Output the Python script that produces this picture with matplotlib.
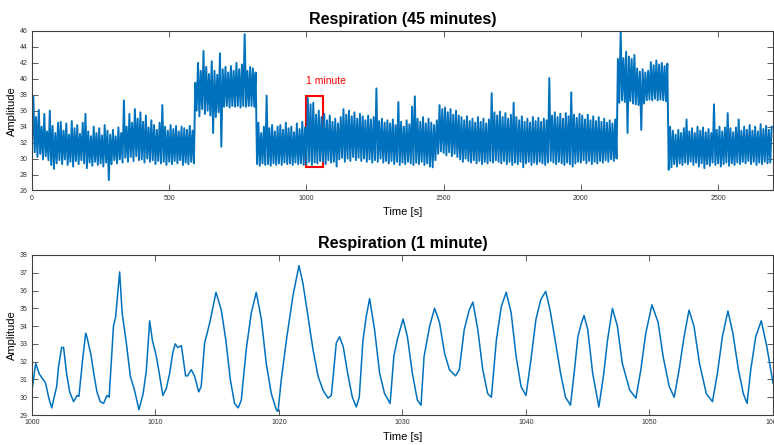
import numpy as np
import matplotlib
matplotlib.use('Agg')
import matplotlib.pyplot as plt
from matplotlib.patches import Rectangle

plt.rcParams['font.family'] = ['Liberation Sans', 'DejaVu Sans']

bin_start = np.arange(0, 2700, 10)
upper = [
    37.8, 35.2, 36.1, 34.0, 35.6, 33.4, 36.0, 34.1, 33.2, 34.5,
    34.6, 33.5, 34.4, 33.0, 34.7, 33.8, 34.2, 33.1, 34.5, 35.6,
    33.4, 32.8, 34.0, 33.2, 33.8, 32.9, 34.2, 33.5, 33.0, 33.6,
    32.8, 33.9, 33.2, 37.3, 34.0, 35.6, 34.5, 36.2, 35.0, 35.8,
    34.6, 35.4, 33.9, 34.8, 34.2, 33.6, 34.5, 36.7, 34.0, 33.5,
    34.2, 33.7, 34.1, 33.4, 34.0, 33.8, 33.6, 34.1, 33.5, 39.5,
    42.0, 41.0, 43.5, 41.5, 40.6, 42.2, 41.0, 40.5, 43.2, 41.2,
    41.5, 40.8, 41.6, 41.0, 42.0, 41.2, 41.8, 45.6, 41.0, 41.5,
    41.3, 40.8, 34.5, 33.2, 34.0, 37.9, 33.8, 34.2, 33.4, 34.0,
    34.2, 33.6, 34.5, 33.8, 34.0, 33.3, 34.4, 33.7, 34.6, 33.9,
    37.6, 36.8, 37.0, 35.5, 36.0, 35.2, 35.6, 34.8, 35.4, 34.6,
    35.0, 34.4, 35.2, 36.2, 35.5, 36.0, 35.3, 35.8, 35.0, 35.6,
    35.3, 34.8, 35.4, 34.9, 35.2, 38.8, 34.7, 35.0, 34.5, 34.8,
    34.4, 34.9, 34.2, 37.1, 34.6, 34.0, 34.8, 34.3, 36.5, 37.8,
    35.0, 34.6, 35.2, 34.4, 35.0, 34.5, 34.2, 34.8, 36.7, 36.2,
    36.4, 35.8, 36.2, 35.5, 36.0, 35.4, 35.2, 34.8, 35.3, 34.7,
    35.0, 34.5, 35.2, 34.6, 35.0, 34.4, 34.9, 38.2, 35.8, 35.4,
    35.9, 35.2, 35.7, 35.0, 35.5, 37.0, 35.2, 34.8, 35.3, 34.6,
    35.0, 34.5, 35.2, 34.7, 35.1, 34.6, 35.0, 34.8, 40.1, 35.4,
    35.8, 35.2, 35.6, 35.0, 35.7, 35.3, 38.3, 35.5, 35.1, 35.6,
    35.4, 34.9, 35.5, 34.8, 35.3, 34.7, 35.2, 34.6, 35.0, 34.5,
    34.8, 34.4, 34.9, 42.5, 46.0, 42.6, 43.4, 42.8, 42.5, 43.0,
    41.3, 40.9, 41.2, 40.8, 41.0, 42.1, 41.7, 42.3, 41.8, 42.0,
    41.6, 41.9, 34.0, 33.5, 33.0, 33.6, 33.2, 33.8, 34.9, 33.4,
    33.8, 33.2, 34.0, 33.5, 33.9, 33.3, 33.7, 33.2, 36.8, 33.6,
    34.0, 33.4, 33.9, 35.7, 33.8, 33.3, 33.9, 34.9, 33.5, 34.0,
    33.6, 34.2, 33.5, 34.0, 33.4, 34.3, 33.7, 34.1, 33.6, 34.0,
]
lower = [
    31.5, 30.8, 30.2, 30.6, 29.9, 30.3, 29.8, 29.2, 28.7, 29.4,
    29.8, 29.3, 29.9, 29.2, 29.6, 29.0, 29.7, 29.3, 29.8, 29.4,
    28.8, 29.5, 29.1, 29.6, 29.2, 29.4, 29.0, 29.5, 27.3, 29.3,
    29.8, 29.4, 29.9, 29.5, 30.1, 29.6, 30.2, 29.7, 30.3, 29.8,
    29.9, 29.5, 30.0, 29.6, 29.8, 29.3, 29.7, 29.4, 29.6, 29.2,
    29.6, 29.3, 29.7, 29.4, 29.8, 29.2, 29.5, 29.3, 29.6, 29.4,
    36.0, 35.3, 36.2, 35.6, 36.0, 35.4, 33.2, 35.2, 35.8, 31.5,
    36.5, 36.6, 36.4, 36.6, 36.5, 36.6, 36.4, 36.6, 36.5, 36.6,
    36.6, 36.5, 29.3, 29.1, 29.4, 29.2, 29.3, 29.1, 29.4, 29.2,
    29.4, 29.2, 29.5, 29.3, 29.4, 29.2, 29.5, 29.3, 29.4, 29.2,
    29.3, 29.6, 29.2, 29.5, 29.4, 29.7, 29.6, 29.3, 29.8, 29.5,
    29.6, 29.0, 29.9, 30.1, 29.6, 30.0, 29.7, 30.2, 29.8, 30.1,
    29.7, 30.0, 29.6, 29.9, 29.5, 29.8, 29.6, 30.0, 29.5, 29.7,
    29.4, 29.7, 29.3, 29.6, 29.2, 29.5, 29.3, 29.6, 29.4, 29.2,
    29.5, 29.3, 29.6, 29.2, 29.4, 29.0, 28.9, 29.8, 30.6, 30.9,
    30.7, 30.4, 30.8, 30.3, 30.6, 30.2, 29.9, 29.6, 30.0, 29.7,
    29.5, 29.8, 29.4, 29.7, 29.3, 29.6, 29.4, 29.7, 29.5, 29.8,
    29.6, 29.4, 29.7, 29.3, 29.6, 29.2, 29.5, 29.3, 29.6, 28.9,
    29.4, 29.6, 29.2, 29.5, 29.3, 29.6, 29.4, 29.2, 29.5, 29.7,
    29.5, 29.3, 29.6, 29.4, 29.2, 29.5, 29.3, 29.0, 29.4, 29.6,
    29.5, 29.8, 29.4, 29.7, 29.3, 29.6, 29.4, 29.7, 29.5, 29.8,
    29.6, 29.9, 29.7, 30.0, 37.0, 37.3, 37.1, 33.2, 37.2, 36.9,
    36.8, 36.7, 33.6, 36.9, 37.3, 37.4, 37.3, 37.5, 37.3, 37.4,
    37.3, 37.2, 28.6, 28.9, 29.3, 29.0, 29.4, 29.2, 29.5, 29.3,
    29.6, 29.2, 29.5, 29.0, 29.4, 28.8, 29.3, 29.1, 29.5, 29.2,
    29.4, 29.0, 29.3, 29.5, 29.1, 29.4, 29.2, 29.5, 29.3, 29.6,
    29.4, 29.7, 29.3, 29.6, 29.2, 29.5, 29.3, 29.6, 29.4, 29.5,
]

# 1 minute excerpt (1000-1060 s)
t_min = [
    1000.0, 1000.3, 1000.6, 1000.9, 1001.1, 1001.4, 1001.6, 1002.0, 1002.15, 1002.4,
    1002.56, 1002.8, 1003.05, 1003.37, 1003.65, 1003.8, 1004.13, 1004.35, 1004.45, 1004.8,
    1005.0, 1005.26, 1005.53, 1005.8, 1006.07, 1006.25, 1006.6, 1006.77, 1007.1, 1007.3,
    1007.64, 1007.96, 1008.3, 1008.66, 1009.0, 1009.26, 1009.53, 1009.75, 1010.07, 1010.34,
    1010.6, 1010.88, 1011.15, 1011.4, 1011.6, 1011.8, 1012.1, 1012.44, 1012.6, 1012.9,
    1013.16, 1013.5, 1013.7, 1013.98, 1014.4, 1014.9, 1015.33, 1015.7, 1016.06, 1016.4,
    1016.7, 1016.95, 1017.35, 1017.76, 1018.16, 1018.57, 1018.97, 1019.38, 1019.78, 1019.92,
    1020.19, 1020.6, 1021.13, 1021.62, 1021.94, 1022.35, 1022.75, 1023.16, 1023.56, 1023.97,
    1024.24, 1024.64, 1024.9, 1025.2, 1025.6, 1025.94, 1026.26, 1026.5, 1026.8, 1027.07,
    1027.34, 1027.74, 1028.15, 1028.55, 1029.0, 1029.3, 1029.6, 1030.05, 1030.4, 1030.8,
    1031.2, 1031.5, 1031.75, 1032.2, 1032.6, 1033.0, 1033.4, 1033.8, 1034.3, 1034.6,
    1035.0, 1035.4, 1035.7, 1036.1, 1036.5, 1036.9, 1037.2, 1037.6, 1038.0, 1038.4,
    1038.8, 1039.2, 1039.6, 1040.0, 1040.4, 1040.8, 1041.2, 1041.6, 1041.95, 1042.4,
    1042.8, 1043.2, 1043.6, 1043.9, 1044.2, 1044.5, 1044.7, 1045.0, 1045.4, 1045.9,
    1046.3, 1046.6, 1047.0, 1047.4, 1047.8, 1048.4, 1048.9, 1049.3, 1049.7, 1050.2,
    1050.7, 1051.1, 1051.6, 1052.0, 1052.4, 1052.8, 1053.2, 1053.6, 1054.05, 1054.6,
    1055.1, 1055.5, 1055.9, 1056.35, 1056.75, 1057.2, 1057.6, 1057.9, 1058.2, 1058.6,
    1059.05, 1059.5, 1060.0,
]
amp_min = [
    30.4, 31.9, 31.3, 31.0, 30.8, 29.85, 29.4, 30.6, 31.7, 32.8,
    32.8, 31.35, 30.3, 29.75, 30.1, 30.05, 32.3, 33.6, 33.4, 32.3,
    31.35, 30.3, 29.75, 29.65, 30.1, 30.0, 34.0, 34.5, 37.05, 34.75,
    33.05, 31.2, 30.4, 29.3, 30.2, 31.5, 34.3, 33.2, 32.3, 31.2,
    30.1, 30.5, 31.35, 32.5, 33.0, 32.8, 32.9, 31.2, 31.2, 31.55,
    31.2, 30.3, 30.6, 33.05, 34.2, 35.9, 34.9, 33.2, 31.0, 29.65,
    29.4, 29.85, 32.7, 34.75, 35.9, 34.4, 31.9, 30.2, 29.3, 29.2,
    31.0, 33.2, 35.7, 37.4, 36.4, 34.55, 32.7, 31.2, 30.4, 29.95,
    30.1, 33.05, 33.4, 32.85, 31.2, 30.0, 29.45, 30.0, 33.2, 34.55,
    35.55, 33.8, 31.35, 30.2, 29.65, 32.3, 33.3, 34.4, 33.4, 31.35,
    29.85, 29.55, 32.3, 34.0, 35.0, 34.2, 32.5, 31.55, 31.2, 31.55,
    33.8, 34.9, 35.35, 33.8, 31.55, 30.2, 30.0, 33.2, 35.1, 35.9,
    34.75, 32.3, 30.6, 30.1, 32.1, 34.35, 35.5, 35.95, 34.9, 33.05,
    31.35, 30.0, 29.55, 31.35, 33.4, 34.2, 34.6, 33.8, 31.35, 29.45,
    31.35, 33.2, 35.0, 34.0, 31.9, 30.4, 29.95, 31.55, 33.6, 35.2,
    34.2, 32.3, 30.6, 30.0, 31.55, 33.4, 34.9, 34.0, 31.9, 30.2,
    29.75, 31.35, 33.4, 34.85, 33.6, 31.55, 30.2, 29.65, 31.55, 33.4,
    34.3, 32.85, 30.8,
]

line_col = '#0072BD'
ax_col = '#404040'

# trace alternates between lower and upper edge inside each bin
t_full = np.ravel(np.column_stack([bin_start, bin_start + 5]))
y_full = np.ravel(np.column_stack([lower, upper]))

fig = plt.figure(figsize=(7.74, 4.45), dpi=100)
ax1 = fig.add_axes([0.0413, 0.572, 0.9574, 0.3584])
ax2 = fig.add_axes([0.0413, 0.0674, 0.9574, 0.3596])


def matlab_style(ax):
    for s in ax.spines.values():
        s.set_color(ax_col)
        s.set_linewidth(0.8)
    ax.tick_params(direction='in', top=True, right=True, length=4, width=0.6,
                   color=ax_col, labelsize=5, labelcolor='#333333', pad=3)


ax1.plot(t_full, y_full, color=line_col, lw=1.4)
ax1.set_xlim(0, 2700)
ax1.set_ylim(26, 46)
ax1.set_xticks(range(0, 2701, 500))
ax1.set_yticks(range(26, 47, 2))
ax1.set_title('Respiration (45 minutes)', fontsize=11.5, fontweight='bold', pad=5)
ax1.set_xlabel('Time [s]', fontsize=8, labelpad=4)
ax1.set_ylabel('Amplitude', fontsize=8, labelpad=2)
ax1.add_patch(Rectangle((1000, 29), 60, 8.9, fill=False, edgecolor='#ff0000', lw=1.5))
ax1.text(1000, 39.1, '1 minute', color='#ff0000', fontsize=7.5, va='bottom', ha='left')
matlab_style(ax1)

ax2.plot(t_min, amp_min, color=line_col, lw=1.1)
ax2.set_xlim(1000, 1060)
ax2.set_ylim(29, 38)
ax2.set_xticks(range(1000, 1061, 10))
ax2.set_yticks(range(29, 39))
ax2.set_title('Respiration (1 minute)', fontsize=11.5, fontweight='bold', pad=5)
ax2.set_xlabel('Time [s]', fontsize=8, labelpad=4)
ax2.set_ylabel('Amplitude', fontsize=8, labelpad=2)
matlab_style(ax2)

fig.savefig('out.png', dpi=100)
